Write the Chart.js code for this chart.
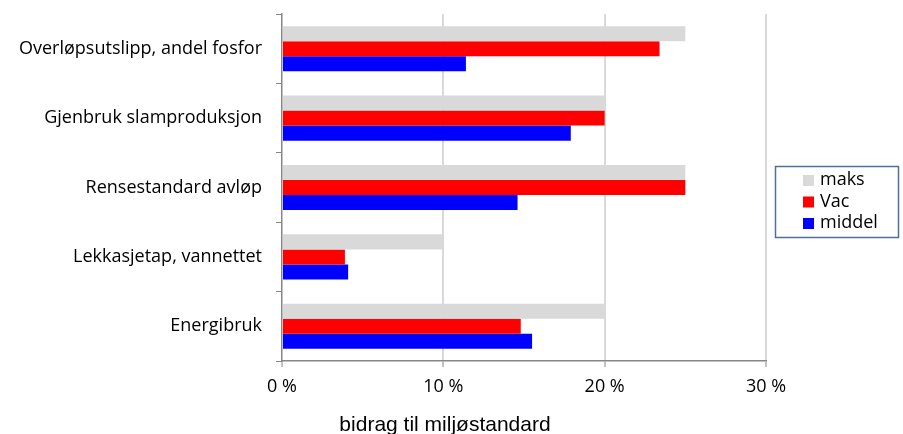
<!DOCTYPE html>
<html>
<head>
<meta charset="utf-8">
<script src="https://cdn.jsdelivr.net/npm/chart.js@4"></script>
<style>
  body { margin: 0; background: #fff; }
</style>
</head>
<body>
<canvas id="miljoChart" width="903" height="434"></canvas>
<script>
// indikatorer og bidrag (prosent) per serie
const kategorier = ['Overløpsutslipp, andel fosfor', 'Gjenbruk slamproduksjon', 'Rensestandard avløp', 'Lekkasjetap, vannettet', 'Energibruk'];
const maks = [25, 20, 25, 10, 20];
const vac = [23.4, 20, 25, 3.9, 14.8];
const middel = [11.4, 17.9, 14.6, 4.1, 15.5];
const xTicks = [0, 10, 20, 30];
const aksetittel = 'bidrag til miljøstandard';

const labelFont = { family: '"Open Sans", sans-serif', size: 18 };

// aksetittel tegnes selv, den står ikke midt under plottet
const tittelPlugin = {
    id: 'aksetittel',
    afterDraw(chart) {
        const ctx = chart.ctx;
        ctx.save();
        ctx.font = '21px "Liberation Sans", Arial, sans-serif';
        ctx.fillStyle = '#000';
        ctx.textAlign = 'center';
        ctx.textBaseline = 'alphabetic';
        ctx.fillText(aksetittel, 445, 431);
        ctx.restore();
    }
};

// legende med ramme til høyre
const legendePlugin = {
    id: 'rammeLegende',
    afterDraw(chart) {
        const ctx = chart.ctx;
        ctx.save();
        ctx.strokeStyle = '#4f6f9f';
        ctx.lineWidth = 1.5;
        ctx.strokeRect(775.5, 166.5, 123, 71);
        ctx.font = '18px ' + labelFont.family;
        ctx.textBaseline = 'middle';
        chart.data.datasets.forEach(function (ds, i) {
            const y = 180 + i * 21.5;
            ctx.fillStyle = ds.backgroundColor;
            ctx.fillRect(803, y - 5, 11, 11);
            ctx.fillStyle = '#000';
            ctx.fillText(ds.label, 820, y);
        });
        ctx.restore();
    }
};

const ctx = document.getElementById('miljoChart').getContext('2d');
const miljoChart = new Chart(ctx, {
    type: 'bar',
    data: {
        labels: kategorier,
        datasets: [
            { label: 'maks', data: maks, backgroundColor: '#d9d9d9' },
            { label: 'Vac', data: vac, backgroundColor: '#ff0000' },
            { label: 'middel', data: middel, backgroundColor: '#0000ff' }
        ]
    },
    options: {
        indexAxis: 'y',
        responsive: false,
        animation: false,
        categoryPercentage: 0.65,
        barPercentage: 1.0,
        layout: { padding: { top: 0, right: 137, left: 0, bottom: 0 } },
        plugins: {
            legend: { display: false },
            tooltip: { enabled: false }
        },
        scales: {
            x: {
                min: 0,
                max: 30,
                afterBuildTicks: function (scale) {
                    scale.ticks = xTicks.map(function (v) { return { value: v }; });
                },
                afterFit: function (scale) { scale.height = 73; },
                ticks: {
                    color: '#000',
                    font: labelFont,
                    padding: 9,
                    callback: function (v) { return v + ' %'; }
                },
                grid: {
                    color: function (c) { return c.tick && c.tick.value === 0 ? 'rgba(0,0,0,0)' : '#d9d9d9'; },
                    lineWidth: 2,
                    tickColor: '#868686',
                    tickLength: 6,
                    tickWidth: 1
                },
                border: { color: '#868686', width: 1.5 }
            },
            y: {
                afterFit: function (scale) {
                    scale.width = 282;
                    scale.paddingTop = 14;
                    scale.paddingBottom = 0;
                },
                ticks: {
                    color: '#000',
                    font: labelFont,
                    padding: 14
                },
                grid: {
                    offset: true,
                    drawOnChartArea: false,
                    tickColor: '#868686',
                    tickLength: 6
                },
                border: { color: '#868686', width: 1.5 }
            }
        }
    },
    plugins: [tittelPlugin, legendePlugin]
});
</script>
</body>
</html>
